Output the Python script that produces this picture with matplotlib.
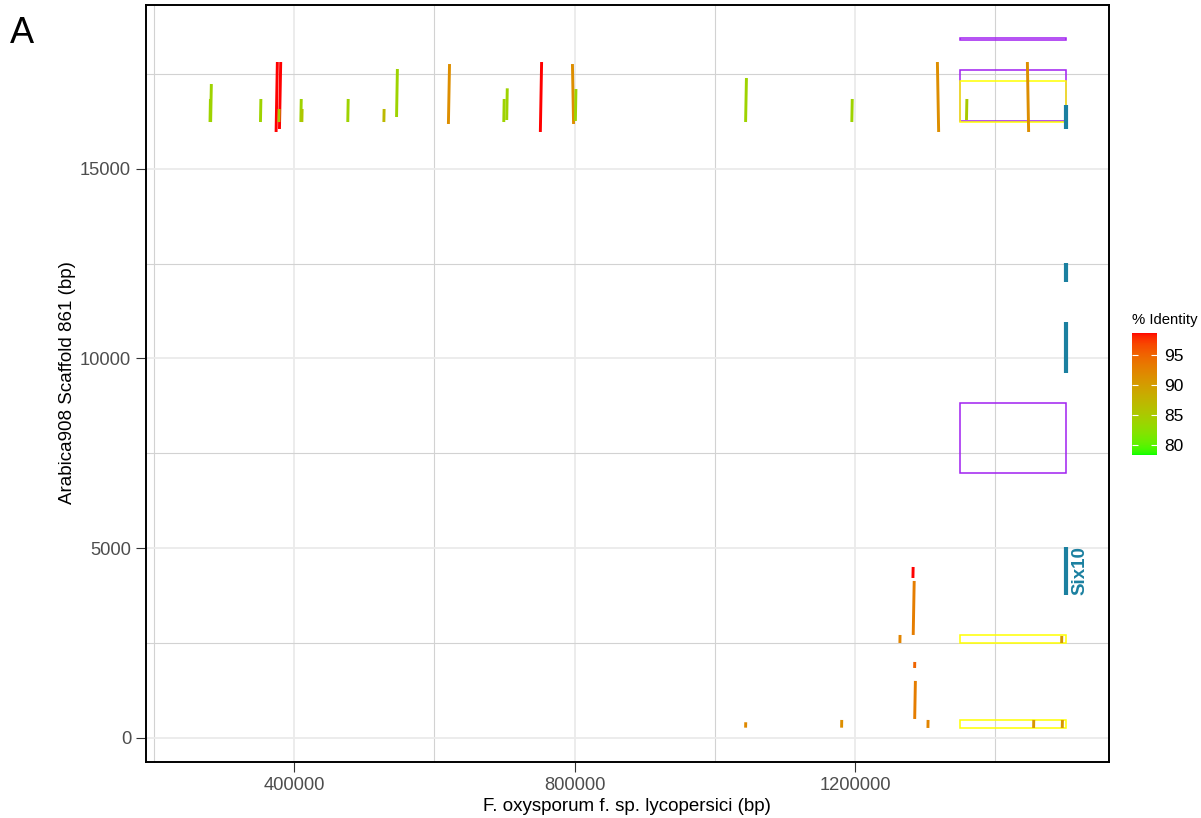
import numpy as np
import matplotlib
matplotlib.use('Agg')
import matplotlib.pyplot as plt
from matplotlib.collections import LineCollection
from matplotlib.colors import ListedColormap, Normalize
from matplotlib.patches import Rectangle
from matplotlib.cm import ScalarMappable

plt.rcParams['font.family'] = ['Liberation Sans', 'DejaVu Sans']

# ---------------- alignments (query = Fol, reference = scaffold 861) ----------------
q_start = [279700, 280600, 351700, 374000, 378800, 378000, 409300, 410800, 476300,
           527800, 545900, 619900, 698900, 703100, 751100, 798500, 801100, 1044000,
           1195600, 1319500, 1359200, 1447900,
           1282800, 1283200, 1264200, 1495000, 1285200, 1285300, 1304200, 1455000,
           1495900, 1044000, 1181000]
q_end = [280300, 281600, 352300, 375800, 380600, 378350, 409900, 411150, 476900,
         528150, 547100, 621500, 699500, 703900, 752900, 796900, 801900, 1045200,
         1196200, 1317700, 1359800, 1446100,
         1283100, 1284600, 1264400, 1495200, 1285400, 1286300, 1304400, 1455200,
         1496100, 1044200, 1181200]
r_start = [16236, 16236, 16236, 15973, 16052, 16236, 16236, 16236, 16236,
           16236, 16368, 16184, 16236, 16289, 15973, 16184, 16263, 16236,
           16236, 15973, 16289, 15973,
           4211, 2708, 2497, 2497, 1838, 493, 256, 256,
           256, 264, 264]
r_end = [16843, 17238, 16843, 17818, 17818, 16579, 16843, 16579, 16843,
         16579, 17634, 17765, 16843, 17124, 17818, 17765, 17106, 17396,
         16843, 17818, 16843, 17818,
         4501, 4132, 2708, 2682, 1996, 1496, 467, 467,
         467, 406, 467]
identity = [84.0, 84.0, 84.0, 98.7, 98.7, 85.0, 84.0, 85.5, 84.0,
            87.0, 84.0, 91.5, 84.0, 84.0, 98.7, 91.5, 84.0, 84.0,
            84.0, 91.5, 85.0, 91.5,
            98.7, 93.0, 92.5, 90.5, 95.0, 93.0, 92.5, 90.5,
            90.5, 92.0, 91.5]

# ---------------- annotated genes on the scaffold ----------------
gene_pos = 1500800
gene_start = [16052, 12015, 9616, 3763]
gene_end = [16683, 12516, 10960, 5027]
gene_label = ['', '', '', 'Six10']

# ---------------- highlighted regions ----------------
box_x0 = [1350000, 1350000, 1350000, 1350000, 1350000, 1350000]
box_x1 = [1500800, 1500800, 1500800, 1500800, 1500800, 1500800]
box_y0 = [18398, 16270, 16228, 6980, 2497, 256]
box_y1 = [18464, 17607, 17317, 8826, 2708, 467]
box_col = ['#A020F0', '#A020F0', '#FFFF00', '#A020F0', '#FFFF00', '#FFFF00']

x_ticks = [400000, 800000, 1200000]
y_ticks = [0, 5000, 10000, 15000]
id_ticks = [80, 85, 90, 95]
id_min, id_max = 78.4, 98.7


# green -> red gradient interpolated in CIE Lab
def srgb_to_lab(c):
    c = np.asarray(c, float)
    lin = np.where(c <= 0.04045, c / 12.92, ((c + 0.055) / 1.055) ** 2.4)
    M = np.array([[0.4124, 0.3576, 0.1805],
                  [0.2126, 0.7152, 0.0722],
                  [0.0193, 0.1192, 0.9505]])
    xyz = M @ lin / np.array([0.95047, 1.0, 1.08883])
    d = 6 / 29
    f = np.where(xyz > d ** 3, np.cbrt(xyz), xyz / (3 * d * d) + 4 / 29)
    return np.array([116 * f[1] - 16, 500 * (f[0] - f[1]), 200 * (f[1] - f[2])])


def lab_to_srgb(lab):
    L, a, b = lab
    fy = (L + 16) / 116
    f = np.array([fy + a / 500, fy, fy - b / 200])
    d = 6 / 29
    xyz = np.where(f > d, f ** 3, 3 * d * d * (f - 4 / 29)) * np.array([0.95047, 1.0, 1.08883])
    Minv = np.array([[3.2406, -1.5372, -0.4986],
                     [-0.9689, 1.8758, 0.0415],
                     [0.0557, -0.2040, 1.0570]])
    lin = np.clip(Minv @ xyz, 0, 1)
    return np.clip(np.where(lin <= 0.0031308, 12.92 * lin,
                            1.055 * lin ** (1 / 2.4) - 0.055), 0, 1)


lab_lo = srgb_to_lab([0, 1, 0])
lab_hi = srgb_to_lab([1, 0, 0])
cmap = ListedColormap([lab_to_srgb(lab_lo + t * (lab_hi - lab_lo))
                       for t in np.linspace(0, 1, 256)])
norm = Normalize(id_min, id_max)

# ---------------- figure ----------------
fig = plt.figure(figsize=(12.01, 8.18), dpi=100)
ax = fig.add_axes([0.1213, 0.0685, 0.8021, 0.9254])
ax.set_xlim(187900, 1562600)
ax.set_ylim(-641, 19322)

ax.set_xticks(x_ticks, [str(v) for v in x_ticks])
ax.set_yticks(y_ticks, [str(v) for v in y_ticks])
ax.set_xticks([200000, 600000, 1000000, 1400000], minor=True)
ax.set_yticks([2500, 7500, 12500, 17500], minor=True)
ax.grid(True, which='major', color='#ebebeb', lw=1.3)
ax.grid(True, which='minor', color='#d2d2d2', lw=0.8)
ax.set_axisbelow(True)
ax.tick_params(which='major', length=7, width=0.8, color='#333333',
               labelsize=13.2, labelcolor='#4d4d4d', pad=3.5)
ax.tick_params(which='minor', length=0)
for s in ax.spines.values():
    s.set_color('black')
    s.set_linewidth(1.4)

for x0, x1, y0, y1, c in zip(box_x0, box_x1, box_y0, box_y1, box_col):
    ax.add_patch(Rectangle((x0, y0), x1 - x0, y1 - y0, fill=False,
                           edgecolor=c, lw=1.1, zorder=2))

segs = [[(a, c), (b, d)] for a, b, c, d in zip(q_start, q_end, r_start, r_end)]
ax.add_collection(LineCollection(segs, colors=cmap(norm(identity)), lw=2.1,
                                 capstyle='butt', zorder=3))

gene_col = '#1B80A0'
for s0, s1, lab in zip(gene_start, gene_end, gene_label):
    ax.plot([gene_pos, gene_pos], [s0, s1], color=gene_col, lw=3,
            solid_capstyle='butt', zorder=4)
    if lab:
        ax.text(gene_pos + 21000, (s0 + s1) / 2, lab, rotation=90,
                ha='center', va='center', color=gene_col, fontsize=13.5,
                fontweight='bold', zorder=4)

fig.text(627 / 1201, 1 - 811 / 818, 'F. oxysporum f. sp. lycopersici (bp)',
         ha='center', va='baseline', fontsize=13.5)
fig.text(71.5 / 1201, 1 - 383 / 818, 'Arabica908 Scaffold 861 (bp)',
         ha='center', va='baseline', rotation=90, rotation_mode='anchor',
         fontsize=13.5)
fig.text(10 / 1201, 1 - 43 / 818, 'A', fontsize=26, va='baseline')

# ---------------- colour bar ----------------
cax = fig.add_axes([1132 / 1201, 1 - 455 / 818, 25 / 1201, 122 / 818])
cb = fig.colorbar(ScalarMappable(norm=norm, cmap=cmap), cax=cax)
cb.outline.set_visible(False)
cb.set_ticks(id_ticks)
cax.tick_params(direction='in', length=4.5, width=0.8, color='white',
                left=True, right=True, labelsize=12.5, pad=5)
fig.text(1132 / 1201, 1 - 320 / 818, '% Identity', fontsize=10.7,
         ha='left', va='center')

fig.savefig('out.png', dpi=100)
